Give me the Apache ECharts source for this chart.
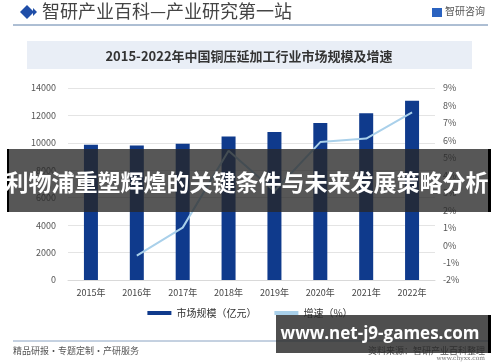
<!DOCTYPE html>
<html><head><meta charset="utf-8">
<script src="https://cdn.jsdelivr.net/npm/echarts@6/dist/echarts.min.js"></script>
<style>html,body{margin:0;padding:0;background:#fff}#c{width:500px;height:362px}</style>
</head><body><div id="c"></div>
<script>
var categories = ['2015年','2016年','2017年','2018年','2019年','2020年','2021年','2022年'];
var marketSize = [9870, 9810, 9930, 10470, 10790, 11450, 12150, 13070];
var growth = [null, -0.6, 1.0, 5.4, 3.1, 5.9, 6.1, 7.6];
var leftTicks = {min: 0, max: 14000, interval: 2000};
var rightTicks = {min: -2, max: 9, interval: 1};

var chart = echarts.init(document.getElementById('c'), null, {renderer: 'canvas'});
var font = '"Noto Sans CJK SC", "Noto Sans", sans-serif';
chart.setOption({
  animation: false,
  textStyle: {fontFamily: font},
  grid: {left: 68, right: 65, top: 88, bottom: 82},
  legend: {
    bottom: 39, left: 'center', itemGap: 18, itemWidth: 24, itemHeight: 4,
    textStyle: {fontSize: 10, color: '#333', fontFamily: font},
    data: [
      {name: '市场规模（亿元）', icon: 'rect'},
      {name: '增速（%）', icon: 'rect', itemStyle: {color: '#a9d0ea'}}
    ]
  },
  xAxis: {
    type: 'category', data: categories,
    axisLine: {lineStyle: {color: '#d9d9d9'}}, axisTick: {show: false},
    axisLabel: {color: '#444', fontSize: 9, margin: 8}
  },
  yAxis: [
    {type: 'value', min: leftTicks.min, max: leftTicks.max, interval: leftTicks.interval,
     axisLine: {show: false}, axisTick: {show: false},
     axisLabel: {color: '#555', fontSize: 9, margin: 12, formatter: function (v) { return String(v); }},
     splitLine: {lineStyle: {color: '#e4e4e4'}}},
    {type: 'value', min: rightTicks.min, max: rightTicks.max, interval: rightTicks.interval,
     axisLine: {show: false}, axisTick: {show: false},
     axisLabel: {color: '#555', fontSize: 9, margin: 8, formatter: '{value}%'},
     splitLine: {show: false}}
  ],
  series: [
    {name: '市场规模（亿元）', type: 'bar', data: marketSize, barWidth: 14,
     itemStyle: {color: '#0f3a8c'}},
    {name: '增速（%）', type: 'line', yAxisIndex: 1, data: growth, symbol: 'none',
     lineStyle: {color: '#a9d0ea', width: 2}, itemStyle: {color: '#a9d0ea'}}
  ],
  graphic: [
    // header
    {type: 'polygon', shape: {points: [[20,12],[27,5],[34,12],[27,19]]}, style: {fill: '#1f4ea8'}},
    {type: 'polygon', shape: {points: [[33,8],[37,12],[33,16]]}, style: {fill: '#1f4ea8'}},
    {type: 'text', left: 42, top: 2, style: {text: '智研产业百科—产业研究第一站', fill: '#444', font: '18px "Noto Sans CJK SC"'}},
    {type: 'rect', shape: {x: 432, y: 8, width: 10, height: 9}, style: {fill: '#2a62c0'}},
    {type: 'text', left: 445, top: 6, style: {text: '智研咨询', fill: '#555', font: '10px "Noto Sans CJK SC"'}},
    {type: 'line', shape: {x1: 13, y1: 25, x2: 488, y2: 25}, style: {stroke: '#5d7fa8', lineWidth: 1}},
    // title box
    {type: 'rect', shape: {x: 27, y: 41, width: 445, height: 28}, style: {fill: '#e9eef6'}},
    {type: 'text', x: 249, y: 56, style: {text: '2015-2022年中国铜压延加工行业市场规模及增速', fill: '#333', font: 'bold 13px "Noto Sans CJK SC"', textAlign: 'center', textVerticalAlign: 'middle'}},
    // footer
    {type: 'line', shape: {x1: 13, y1: 341, x2: 488, y2: 341}, style: {stroke: '#8aa3c2', lineWidth: 1}},
    {type: 'text', left: 13, top: 346, style: {text: '精品研报・专题定制・产研服务', fill: '#555', font: '9px "Noto Sans CJK SC"'}},
    {type: 'text', right: 15, top: 346, style: {text: '资料来源：智研产业百科整理', fill: '#555', font: '9px "Noto Sans CJK SC"'}},
    {type: 'text', right: 15, top: 355, style: {text: 'www.chyxx.com', fill: '#777', font: '6px "DejaVu Serif"'}},
    // overlay banners
    {type: 'rect', z: 100, shape: {x: 8, y: 149, width: 482, height: 63}, style: {fill: 'rgba(40,40,40,0.78)'}},
    {type: 'rect', z: 101, shape: {x: 7, y: 149, width: 2, height: 63}, style: {fill: '#000'}},
    {type: 'rect', z: 101, shape: {x: 488, y: 149, width: 3, height: 63}, style: {fill: '#000'}},
    {type: 'text', z: 102, x: 247, y: 182, style: {text: '利物浦重塑辉煌的关键条件与未来发展策略分析', fill: '#fff', font: 'bold 23px "Noto Sans CJK SC"', textAlign: 'center', textVerticalAlign: 'middle'}},
    {type: 'rect', z: 100, shape: {x: 276, y: 315, width: 214, height: 38}, style: {fill: 'rgba(40,40,40,0.82)'}},
    {type: 'rect', z: 101, shape: {x: 488, y: 315, width: 3, height: 38}, style: {fill: '#000'}},
    {type: 'text', z: 102, x: 380, y: 334, style: {text: 'www.net-j9-games.com', fill: '#fff', font: 'bold 17px "Open Sans"', textAlign: 'center', textVerticalAlign: 'middle'}}
  ]
});
</script></body></html>
